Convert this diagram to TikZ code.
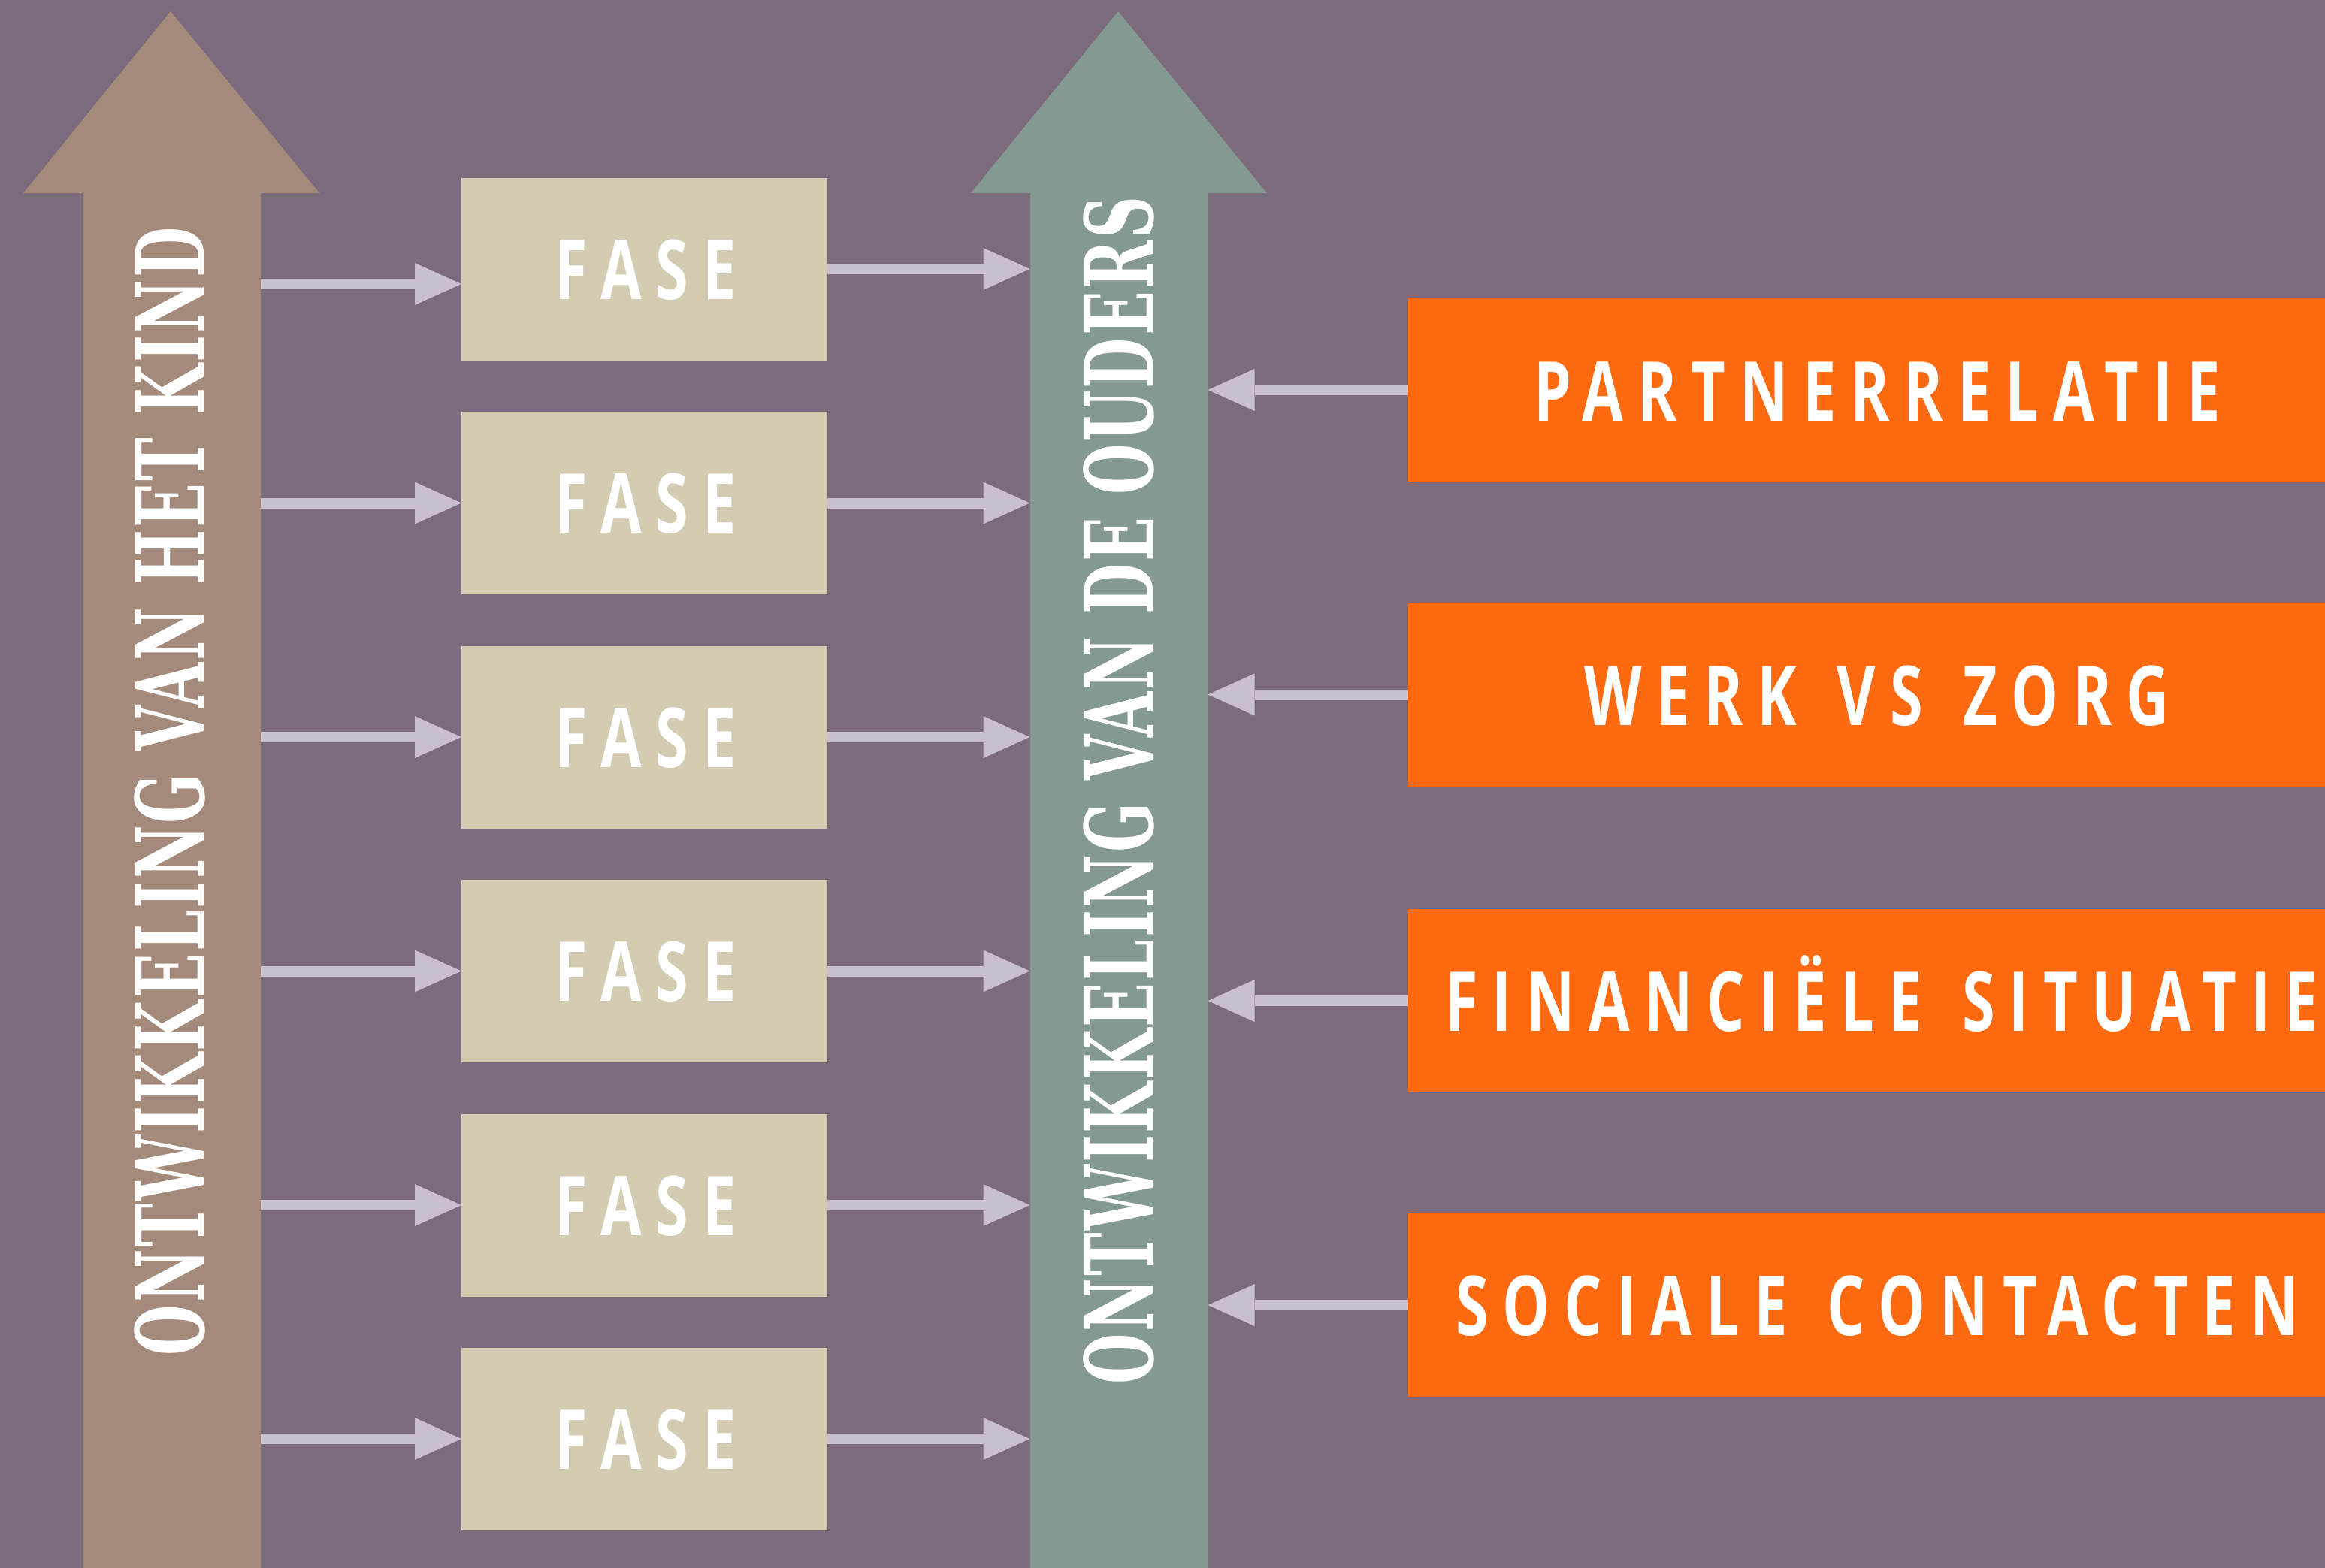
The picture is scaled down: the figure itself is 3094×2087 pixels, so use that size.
\documentclass[tikz,border=0pt]{standalone}
\usepackage{fontspec}
\usetikzlibrary{arrows.meta}
\newfontfamily\fasefont[LetterSpace=24,WordSpace=1.35]{Open Sans}
\newfontfamily\slabfont[LetterSpace=3.9]{DejaVu Serif}
\definecolor{bg}{HTML}{7B6B7D}
\definecolor{brownarrow}{HTML}{A48A7A}
\definecolor{tealarrow}{HTML}{849991}
\definecolor{beige}{HTML}{D4CBB3}
\definecolor{orng}{HTML}{FF6A10}
\definecolor{lav}{HTML}{C9BFCF}
\newcommand\fasetxt[1]{\scalebox{0.72}[1]{\fasefont\bfseries\fontsize{110pt}{110pt}\selectfont #1}}
\newcommand\vtxt[1]{\scalebox{0.62}[1]{\slabfont\bfseries\fontsize{125pt}{125pt}\selectfont #1}}
\tikzset{
  shaft/.style={inner sep=0pt, outer sep=0pt, draw=none, minimum width=237pt, minimum height=1832pt},
  fasebox/.style={fill=beige, inner sep=0pt, outer sep=0pt, minimum width=487pt, minimum height=243pt},
  orangebox/.style={fill=orng, inner sep=0pt, outer sep=0pt, minimum width=1220pt, minimum height=244pt},
  labeltext/.style={text=white, inner sep=0pt, anchor=base},
  vlabel/.style={text=white, inner sep=0pt, rotate=90},
  conn/.style={draw=lav, line width=14pt, -{Triangle[length=62pt,width=56pt,line width=0pt]}},
}
\begin{document}
\begin{tikzpicture}[x=1pt,y=-1pt]
\useasboundingbox (0,0) rectangle (3094,2087);
\fill[bg] (0,0) rectangle (3094,2087);
% big arrows
\node[shaft, fill=brownarrow] (kind) at (228.5,1171) {};
\fill[brownarrow] (31,257) -- (227,15) -- (425,257) -- cycle;
\node[shaft, fill=tealarrow] (ouders) at (1489,1171) {};
\fill[tealarrow] (1292,257) -- (1488,15) -- (1686,257) -- cycle;
% phase boxes
\foreach \i/\y in {1/358,2/669.5,3/981,4/1292.5,5/1604,6/1915}{
  \node[fasebox] (fase\i) at (857.5,\y) {};
  \node[labeltext] (fasetext\i) at (859,\y+40) {\fasetxt{FASE}};
}
% orange boxes
\node[orangebox] (partner) at (2484,519) {};
\node[orangebox] (werk) at (2484,924.5) {};
\node[orangebox] (financ) at (2484,1332) {};
\node[orangebox] (sociaal) at (2484,1737) {};
\node[labeltext] (tpartner) at (2498,560) {\fasetxt{PARTNERRELATIE}};
\node[labeltext] (twerk) at (2498,965) {\fasetxt{WERK VS ZORG}};
\node[labeltext] (tfinanc) at (2504,1372) {\fasetxt{FINANCIËLE SITUATIE}};
\node[labeltext] (tsociaal) at (2498,1777) {\fasetxt{SOCIALE CONTACTEN}};
% connectors left
\draw[conn] ([yshift=-20pt]fase1.west -| kind.east) -- ([yshift=-20pt]fase1.west);
\foreach \i in {2,...,6}{
  \draw[conn] (fase\i.west -| kind.east) -- (fase\i.west);
}
% connectors right
\foreach \i in {1,...,6}{
  \draw[conn] (fase\i.east) -- (fase\i.east -| ouders.west);
}
% connectors from factors
\foreach \n in {partner,werk,financ,sociaal}{
  \draw[conn] (\n.west) -- (\n.west -| ouders.east);
}
% vertical labels
\node[vlabel] (tkind) at (226,1053) {\vtxt{ONTWIKKELING VAN HET KIND}};
\node[vlabel] (touders) at (1489,1052) {\vtxt{ONTWIKKELING VAN DE OUDERS}};
\end{tikzpicture}
\end{document}
